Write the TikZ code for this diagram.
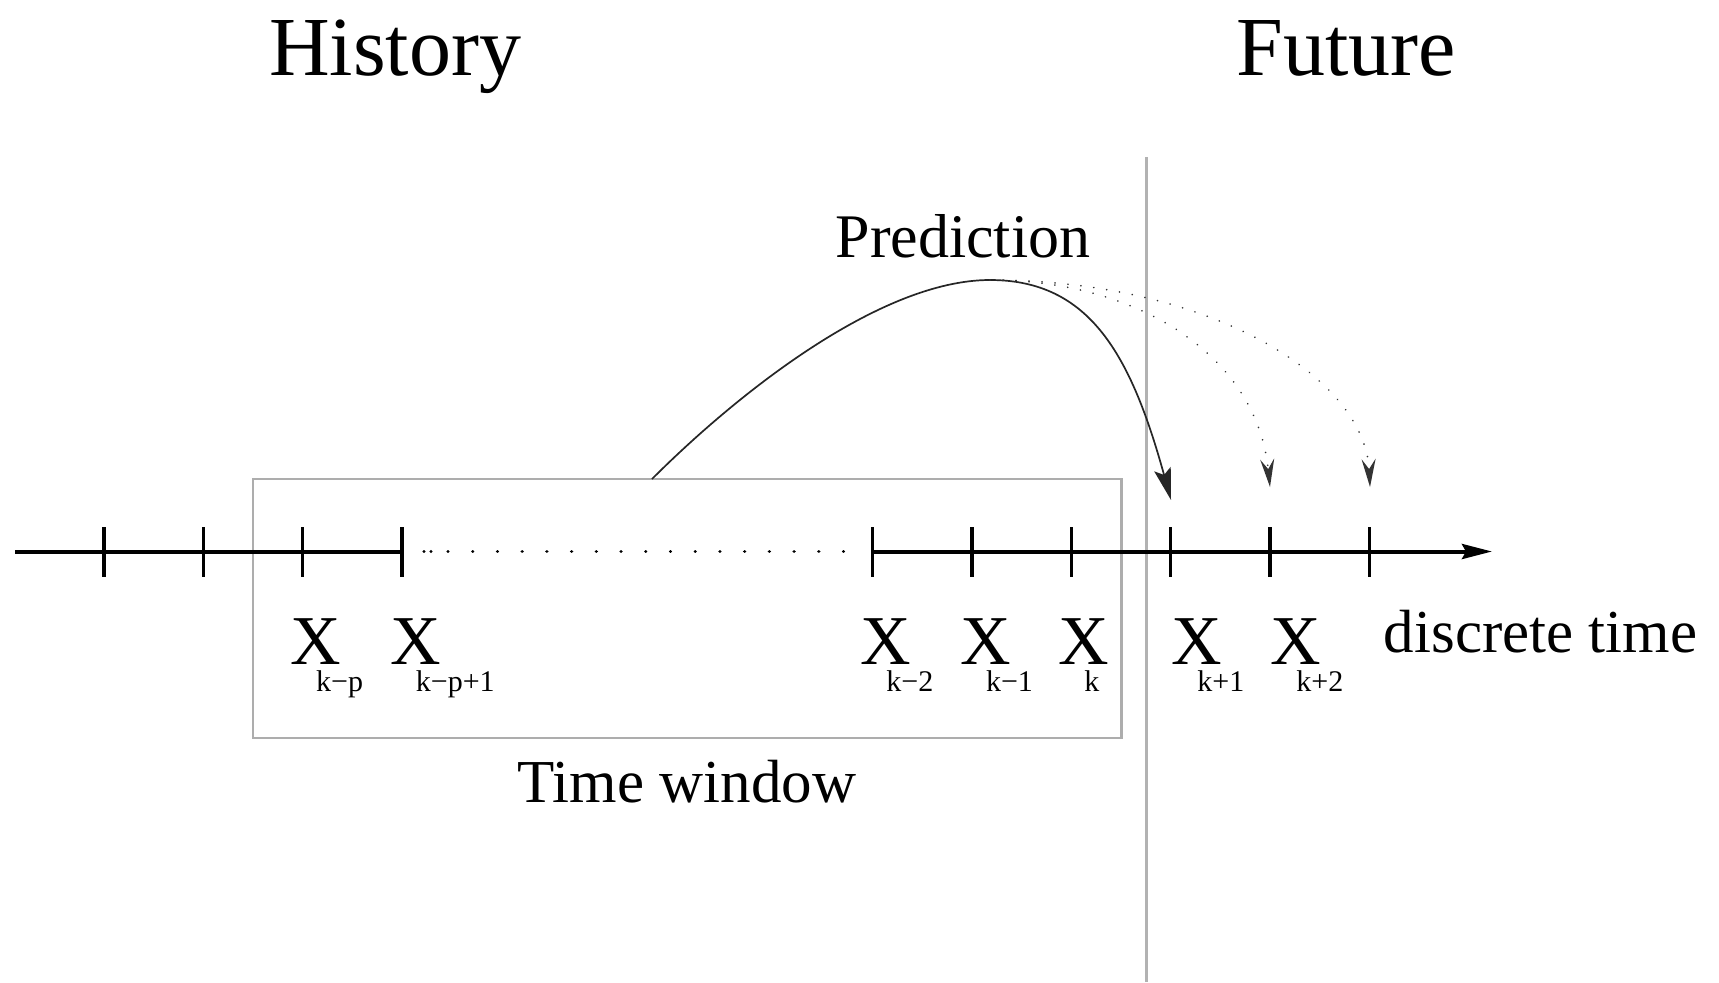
\documentclass[tikz,border=0pt]{standalone}
\usepackage{fontspec}
\setmainfont{Liberation Serif}
\usetikzlibrary{arrows.meta}
\begin{document}
\begin{tikzpicture}[x=0.5pt,y=-0.5pt,
  axisline/.style={line width=2pt, draw=black},
  axisdots/.style={line width=1.7pt, draw=black, line cap=round, dash pattern=on 0.01pt off 12.35pt},
  tickmark/.style={line width=1.7pt, draw=black},
  graybox/.style={draw=black!32, line width=1.4pt},
  grayline/.style={draw=black!30, line width=1.5pt},
  predline/.style={draw=black!85, line width=0.85pt},
  predots/.style={draw=black!80, line width=0.9pt, line cap=round, dash pattern=on 0.01pt off 6.5pt},
  bigx/.style={font=\fontsize{35}{35}\selectfont, inner sep=0pt, anchor=base},
  subx/.style={font=\fontsize{15}{15}\selectfont, inner sep=0pt, anchor=base west},
  ttl/.style={font=\fontsize{42}{42}\selectfont, inner sep=0pt, anchor=base},
  lbl/.style={font=\fontsize{30.5}{30.5}\selectfont, inner sep=0pt, anchor=base},
]
\useasboundingbox[fill=white] (0,0) rectangle (1719,982);

% titles
\node[ttl] (hist) at (395,75) {History};
\node[ttl] (fut) at (1346,75) {Future};

% separator
\coordinate (vtop) at (1146.7,157);
\coordinate (vbot) at (1146.7,982);
\draw[grayline] (vtop) -- (vbot);

% time window box
\coordinate (bx0) at (253,479);
\coordinate (bx1) at (1121.5,738);
\draw[graybox] (bx0) rectangle (bx1);
\node[lbl] (tw) at (687,802.5) {Time window};

% axis
\coordinate (ax0) at (15,551.5);
\coordinate (axd1) at (401.9,551.5);
\coordinate (dot1) at (424,551.5);
\coordinate (dot2) at (431,551.5);
\coordinate (dots0) at (448,551.5);
\coordinate (dots1) at (868,551.5);
\coordinate (axd2) at (872.7,551.5);
\coordinate (ax1) at (1492,551.5);
\draw[axisline] (ax0) -- (axd1);
\draw[axisdots] (dot1) -- (dot2) (dots0) -- (dots1);
\fill (dot2) circle[radius=1.7];
\draw[axisline, -{Stealth[length=15pt,width=7.5pt,inset=2pt]}] (axd2) -- (ax1);
\foreach \t in {104,203.3,302.6,401.9,872.7,972,1071.3,1170.6,1269.9,1369.2}
  \draw[tickmark] (\t,527) -- (\t,577);

\node[lbl, anchor=base west] (dt) at (1383.5,652) {discrete time};

% samples
\node[bigx] (xa) at (315.7,664) {X};
\node[subx] (sa) at (315.7,691) {k−p};
\node[bigx] (xb) at (415.5,664) {X};
\node[subx] (sb) at (415.5,691) {k−p+1};
\node[bigx] (xc) at (886,664) {X};
\node[subx] (sc) at (886,691) {k−2};
\node[bigx] (xd) at (985.6,664) {X};
\node[subx] (sd) at (985.6,691) {k−1};
\node[bigx] (xe) at (1084,664) {X};
\node[subx] (se) at (1084,691) {k};
\node[bigx] (xf) at (1197,664) {X};
\node[subx] (sf) at (1197,691) {k+1};
\node[bigx] (xg) at (1296,664) {X};
\node[subx] (sg) at (1296,691) {k+2};

% prediction
\node[lbl, font=\fontsize{31}{31}\selectfont] (pred) at (963,257) {Prediction};
\coordinate (src) at (652,479);
\coordinate (pk) at (990,280);
\coordinate (t1) at (1171,500);
\coordinate (t2) at (1270,487);
\coordinate (t3) at (1370,487);
\draw[predline, -{Stealth[length=16pt,width=8.5pt,inset=3pt]}]
  (src) .. controls (737,394) and (880,280) .. (pk)
        .. controls (1090,280) and (1131,355.4) .. (t1);
\draw[predots, -{Stealth[length=14pt,width=7pt,inset=5pt]}]
  (pk) .. controls (1140,280) and (1257,357) .. (t2);
\draw[predots, -{Stealth[length=14pt,width=7pt,inset=5pt]}]
  (pk) .. controls (1210,280) and (1364.5,377) .. (t3);
\end{tikzpicture}
\end{document}
